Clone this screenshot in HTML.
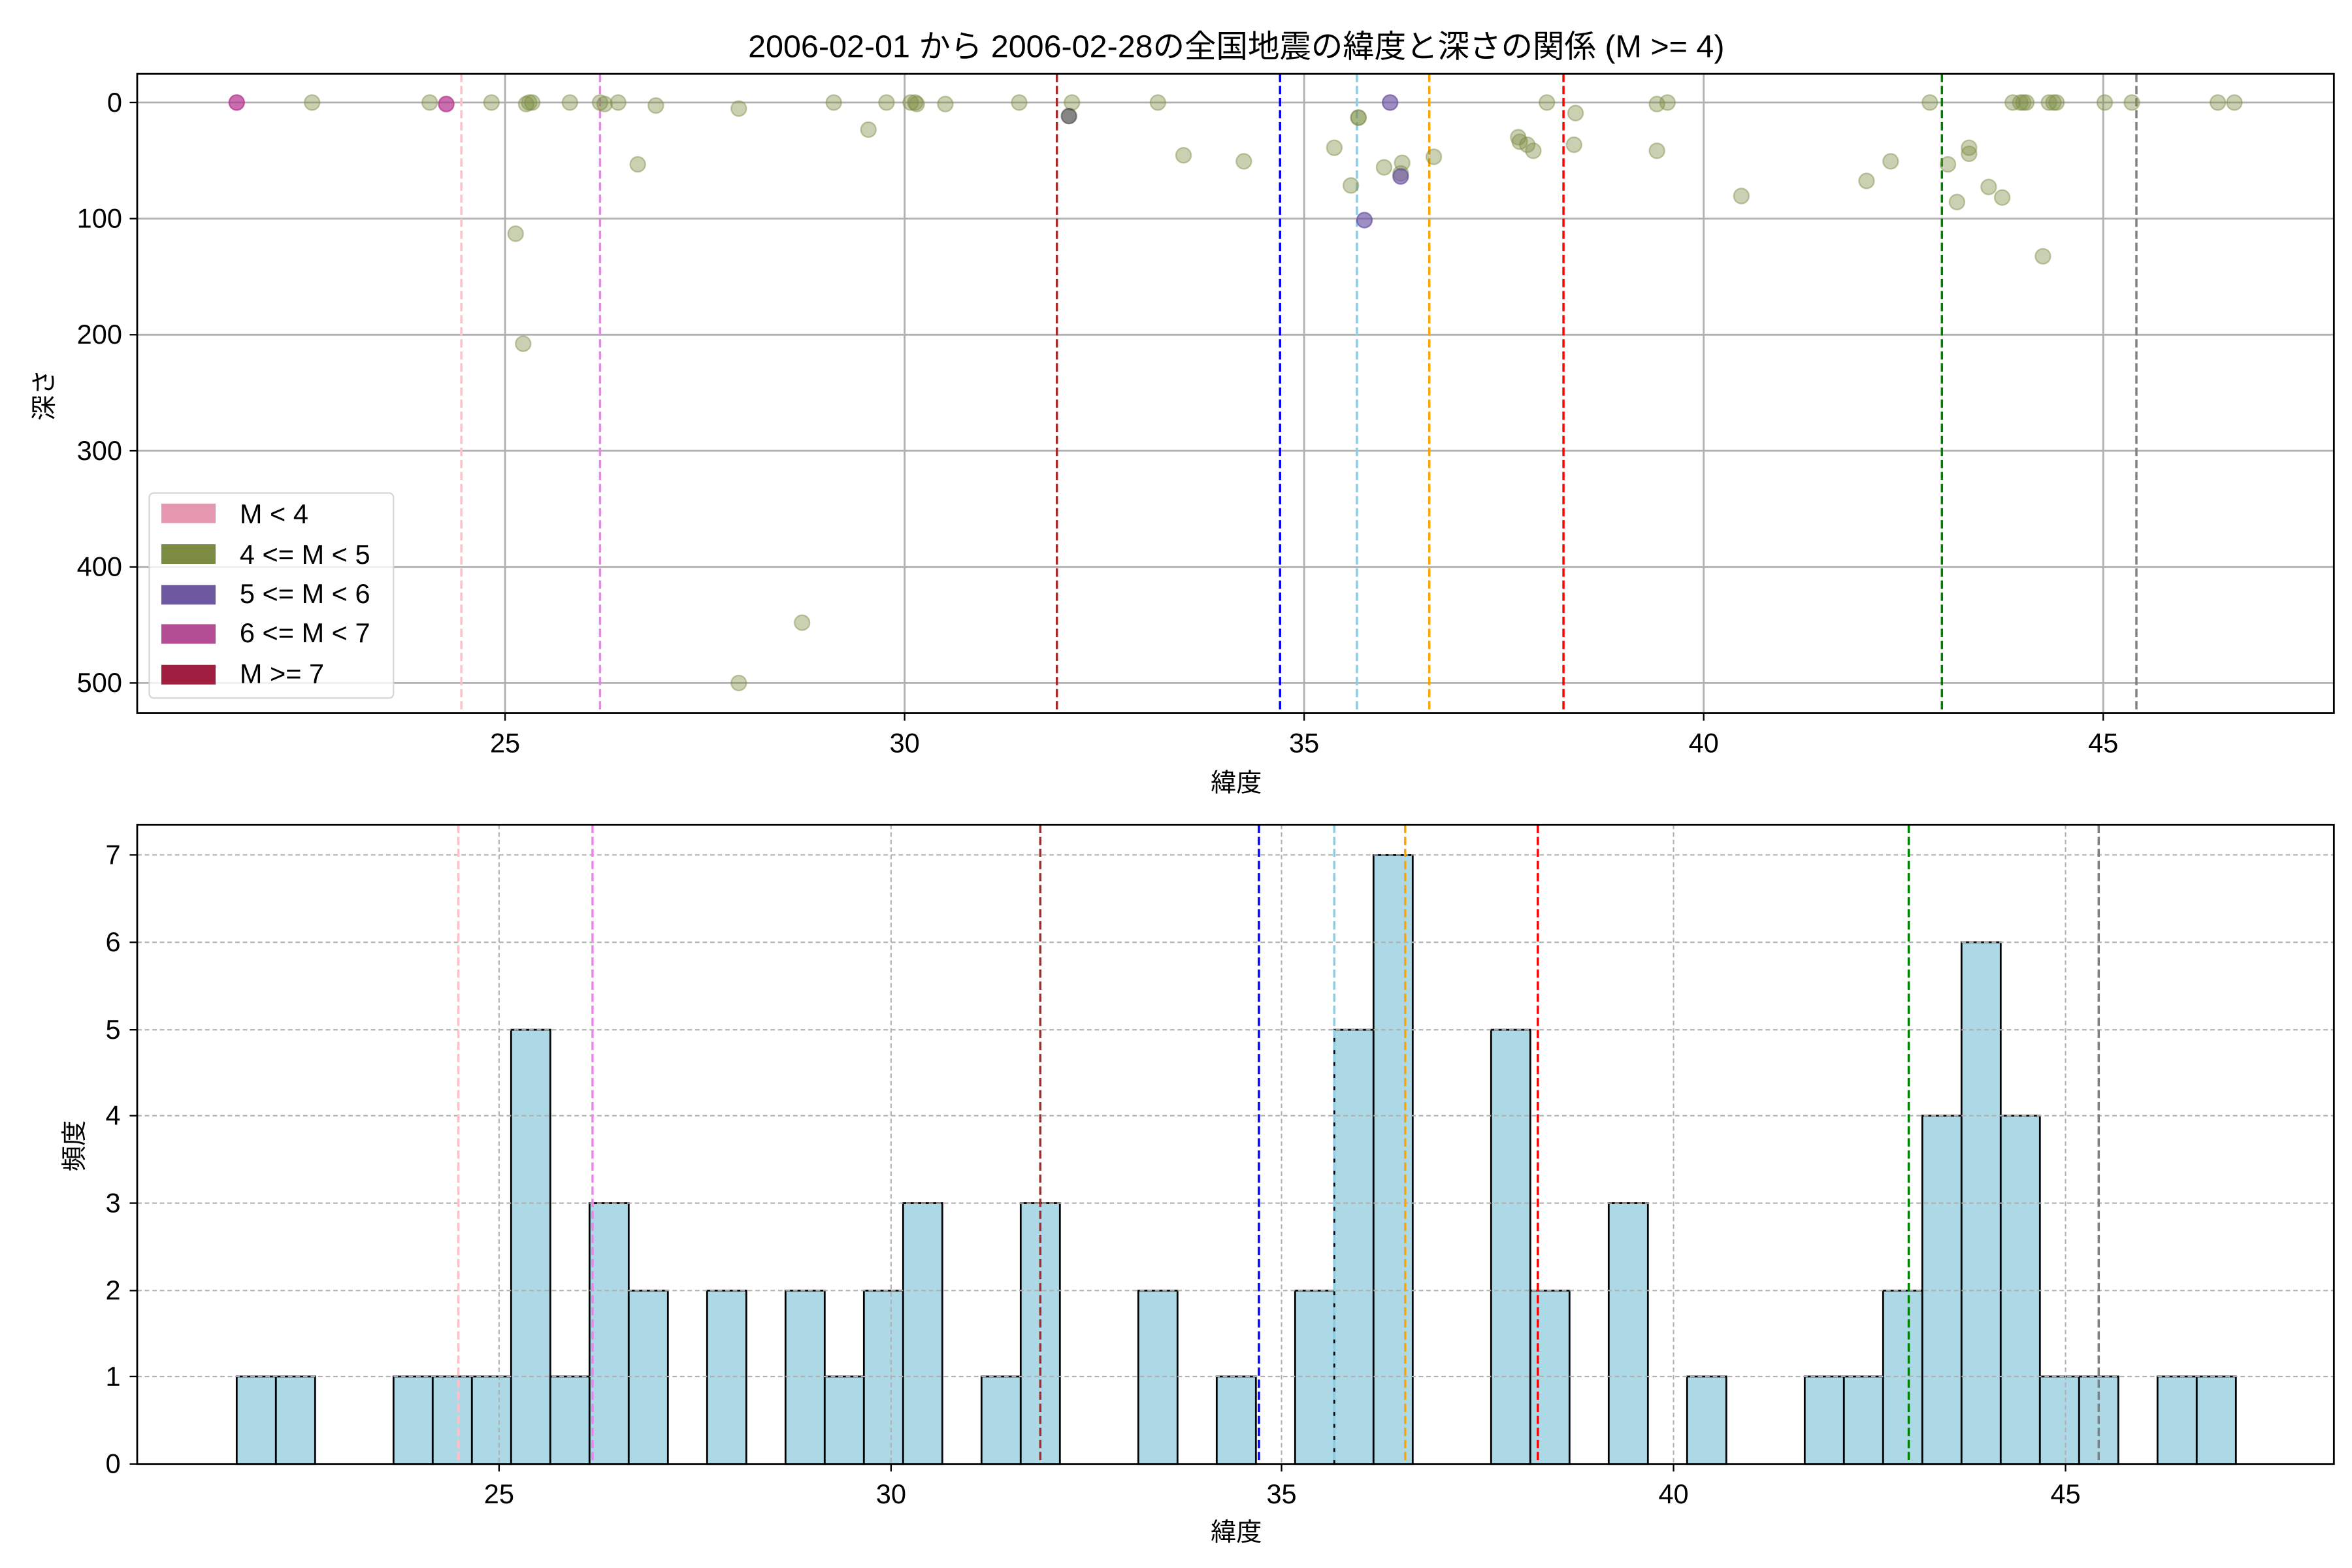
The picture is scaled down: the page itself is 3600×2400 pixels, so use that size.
<!DOCTYPE html>
<html><head><meta charset="utf-8"><style>html,body{margin:0;padding:0;background:#fff}svg{display:block}</style></head>
<body>
<svg width="3600" height="2400" viewBox="0 0 1560 1040" xmlns="http://www.w3.org/2000/svg" font-family="Liberation Sans, Noto Sans CJK JP, sans-serif">
<rect width="1560" height="1040" fill="#fff"/>
<text x="820" y="38" font-size="21" text-anchor="middle">2006-02-01 から 2006-02-28の全国地震の緯度と深さの関係 (M &gt;= 4)</text>

<!-- TOP AXES -->
<g stroke="#b0b0b0" stroke-width="1.2">
<line x1="335" y1="49" x2="335" y2="473"/><line x1="600" y1="49" x2="600" y2="473"/><line x1="865" y1="49" x2="865" y2="473"/><line x1="1130" y1="49" x2="1130" y2="473"/><line x1="1395" y1="49" x2="1395" y2="473"/>
<line x1="91" y1="68" x2="1548" y2="68"/><line x1="91" y1="145" x2="1548" y2="145"/><line x1="91" y1="222" x2="1548" y2="222"/><line x1="91" y1="299" x2="1548" y2="299"/><line x1="91" y1="376" x2="1548" y2="376"/><line x1="91" y1="453" x2="1548" y2="453"/>
</g>
<g stroke-width="1.5" stroke-dasharray="5.5,2.5">
<line x1="306" y1="49" x2="306" y2="473" stroke="pink"/>
<line x1="398" y1="49" x2="398" y2="473" stroke="violet"/>
<line x1="701" y1="49" x2="701" y2="473" stroke="#a52a2a"/>
<line x1="849" y1="49" x2="849" y2="473" stroke="blue"/>
<line x1="900" y1="49" x2="900" y2="473" stroke="skyblue"/>
<line x1="948" y1="49" x2="948" y2="473" stroke="orange"/>
<line x1="1037" y1="49" x2="1037" y2="473" stroke="red"/>
<line x1="1288" y1="49" x2="1288" y2="473" stroke="green"/>
<line x1="1417" y1="49" x2="1417" y2="473" stroke="gray"/>
</g>
<g fill="#7b8b42" fill-opacity="0.4" stroke="#7b8b42" stroke-opacity="0.45" stroke-width="1">
<circle cx="207" cy="68" r="5"/><circle cx="285" cy="68" r="5"/><circle cx="326" cy="68" r="5"/><circle cx="342" cy="155" r="5"/><circle cx="347" cy="228" r="5"/><circle cx="349" cy="69" r="5"/><circle cx="351" cy="68" r="5"/><circle cx="353" cy="68" r="5"/><circle cx="378" cy="68" r="5"/><circle cx="398" cy="68" r="5"/><circle cx="401" cy="69" r="5"/><circle cx="410" cy="68" r="5"/><circle cx="423" cy="109" r="5"/><circle cx="435" cy="70" r="5"/><circle cx="490" cy="72" r="5"/><circle cx="490" cy="453" r="5"/><circle cx="532" cy="413" r="5"/><circle cx="553" cy="68" r="5"/><circle cx="576" cy="86" r="5"/><circle cx="588" cy="68" r="5"/><circle cx="604" cy="68" r="5"/><circle cx="607" cy="68" r="5"/><circle cx="608" cy="69" r="5"/><circle cx="627" cy="69" r="5"/><circle cx="676" cy="68" r="5"/><circle cx="711" cy="68" r="5"/><circle cx="768" cy="68" r="5"/><circle cx="785" cy="103" r="5"/><circle cx="825" cy="107" r="5"/><circle cx="885" cy="98" r="5"/><circle cx="896" cy="123" r="5"/><circle cx="901" cy="78" r="5"/><circle cx="901" cy="78" r="5"/><circle cx="918" cy="111" r="5"/><circle cx="930" cy="108" r="5"/><circle cx="929" cy="115" r="5"/><circle cx="951" cy="104" r="5"/><circle cx="1007" cy="91" r="5"/><circle cx="1008" cy="94" r="5"/><circle cx="1013" cy="96" r="5"/><circle cx="1017" cy="100" r="5"/><circle cx="1026" cy="68" r="5"/><circle cx="1045" cy="75" r="5"/><circle cx="1044" cy="96" r="5"/><circle cx="1099" cy="69" r="5"/><circle cx="1099" cy="100" r="5"/><circle cx="1106" cy="68" r="5"/><circle cx="1155" cy="130" r="5"/><circle cx="1238" cy="120" r="5"/><circle cx="1254" cy="107" r="5"/><circle cx="1280" cy="68" r="5"/><circle cx="1292" cy="109" r="5"/><circle cx="1298" cy="134" r="5"/><circle cx="1306" cy="102" r="5"/><circle cx="1306" cy="98" r="5"/><circle cx="1319" cy="124" r="5"/><circle cx="1328" cy="131" r="5"/><circle cx="1335" cy="68" r="5"/><circle cx="1340" cy="68" r="5"/><circle cx="1342" cy="68" r="5"/><circle cx="1344" cy="68" r="5"/><circle cx="1355" cy="170" r="5"/><circle cx="1359" cy="68" r="5"/><circle cx="1362" cy="68" r="5"/><circle cx="1364" cy="68" r="5"/><circle cx="1396" cy="68" r="5"/><circle cx="1414" cy="68" r="5"/><circle cx="1471" cy="68" r="5"/><circle cx="1482" cy="68" r="5"/>
</g>
<g fill="#333" fill-opacity="0.6" stroke="#333" stroke-opacity="0.5">
<circle cx="709" cy="77" r="5"/>
</g>
<g fill="#6a51a3" fill-opacity="0.65" stroke="#6a51a3" stroke-opacity="0.7">
<circle cx="922" cy="68" r="5"/><circle cx="905" cy="146" r="5"/><circle cx="929" cy="117" r="5"/>
</g>
<g fill="#b5318f" fill-opacity="0.7" stroke="#b5318f" stroke-opacity="0.7">
<circle cx="157" cy="68" r="5"/><circle cx="296" cy="69" r="5"/>
</g>
<!-- legend -->
<rect x="99" y="327" width="162" height="136" rx="3" fill="#fff" fill-opacity="0.8" stroke="#d6d6d6" stroke-width="1"/>
<rect x="107" y="334" width="36" height="13" fill="#e597b0"/>
<rect x="107" y="361" width="36" height="13" fill="#7b8b42"/>
<rect x="107" y="388" width="36" height="13" fill="#6e589f"/>
<rect x="107" y="414" width="36" height="13" fill="#b24d94"/>
<rect x="107" y="441" width="36" height="13" fill="#a01f40"/>
<g font-size="18">
<text x="159" y="347">M &lt; 4</text>
<text x="159" y="374">4 &lt;= M &lt; 5</text>
<text x="159" y="400">5 &lt;= M &lt; 6</text>
<text x="159" y="426">6 &lt;= M &lt; 7</text>
<text x="159" y="453">M &gt;= 7</text>
</g>
<rect x="91" y="49" width="1457" height="424" fill="none" stroke="#000" stroke-width="1.2"/>
<g stroke="#000" stroke-width="1">
<line x1="335" y1="473" x2="335" y2="478"/><line x1="600" y1="473" x2="600" y2="478"/><line x1="865" y1="473" x2="865" y2="478"/><line x1="1130" y1="473" x2="1130" y2="478"/><line x1="1395" y1="473" x2="1395" y2="478"/>
<line x1="86" y1="68" x2="91" y2="68"/><line x1="86" y1="145" x2="91" y2="145"/><line x1="86" y1="222" x2="91" y2="222"/><line x1="86" y1="299" x2="91" y2="299"/><line x1="86" y1="376" x2="91" y2="376"/><line x1="86" y1="453" x2="91" y2="453"/>
</g>
<g font-size="18" text-anchor="middle">
<text x="335" y="499">25</text><text x="600" y="499">30</text><text x="865" y="499">35</text><text x="1130" y="499">40</text><text x="1395" y="499">45</text>
<text x="820" y="525" font-size="17">緯度</text>
</g>
<g font-size="18" text-anchor="end">
<text x="81" y="74">0</text><text x="81" y="151">100</text><text x="81" y="228">200</text><text x="81" y="305">300</text><text x="81" y="382">400</text><text x="81" y="459">500</text>
</g>
<text x="0" y="0" font-size="17" text-anchor="middle" transform="translate(35,262) rotate(-90)">深さ</text>

<!-- BOTTOM AXES -->
<g fill="#add8e6" stroke="#000" stroke-width="1.2">
<rect x="157" y="913" width="26" height="58"/><rect x="183" y="913" width="26" height="58"/>
<rect x="261" y="913" width="26" height="58"/><rect x="287" y="913" width="26" height="58"/><rect x="313" y="913" width="26" height="58"/>
<rect x="339" y="683" width="26" height="288"/><rect x="365" y="913" width="26" height="58"/><rect x="391" y="798" width="26" height="173"/><rect x="417" y="856" width="26" height="115"/>
<rect x="469" y="856" width="26" height="115"/>
<rect x="521" y="856" width="26" height="115"/><rect x="547" y="913" width="26" height="58"/><rect x="573" y="856" width="26" height="115"/><rect x="599" y="798" width="26" height="173"/>
<rect x="651" y="913" width="26" height="58"/><rect x="677" y="798" width="26" height="173"/>
<rect x="755" y="856" width="26" height="115"/>
<rect x="807" y="913" width="26" height="58"/>
<rect x="859" y="856" width="26" height="115"/><rect x="885" y="683" width="26" height="288"/><rect x="911" y="567" width="26" height="404"/>
<rect x="989" y="683" width="26" height="288"/><rect x="1015" y="856" width="26" height="115"/>
<rect x="1067" y="798" width="26" height="173"/>
<rect x="1119" y="913" width="26" height="58"/>
<rect x="1197" y="913" width="26" height="58"/><rect x="1223" y="913" width="26" height="58"/><rect x="1249" y="856" width="26" height="115"/><rect x="1275" y="740" width="26" height="231"/><rect x="1301" y="625" width="26" height="346"/><rect x="1327" y="740" width="26" height="231"/><rect x="1353" y="913" width="26" height="58"/><rect x="1379" y="913" width="26" height="58"/>
<rect x="1431" y="913" width="26" height="58"/><rect x="1457" y="913" width="26" height="58"/>
</g>
<g stroke="#b0b0b0" stroke-width="0.9" stroke-dasharray="3,2">
<line x1="331" y1="547" x2="331" y2="971"/><line x1="591" y1="547" x2="591" y2="971"/><line x1="850" y1="547" x2="850" y2="971"/><line x1="1110" y1="547" x2="1110" y2="971"/><line x1="1370" y1="547" x2="1370" y2="971"/>
<line x1="91" y1="913" x2="1548" y2="913"/><line x1="91" y1="856" x2="1548" y2="856"/><line x1="91" y1="798" x2="1548" y2="798"/><line x1="91" y1="740" x2="1548" y2="740"/><line x1="91" y1="683" x2="1548" y2="683"/><line x1="91" y1="625" x2="1548" y2="625"/><line x1="91" y1="567" x2="1548" y2="567"/>
</g>
<g stroke-width="1.5" stroke-dasharray="5.5,2.5">
<line x1="304" y1="547" x2="304" y2="971" stroke="pink"/>
<line x1="393" y1="547" x2="393" y2="971" stroke="violet"/>
<line x1="690" y1="547" x2="690" y2="971" stroke="#a52a2a"/>
<line x1="835" y1="547" x2="835" y2="971" stroke="blue"/>
<line x1="885" y1="547" x2="885" y2="971" stroke="skyblue"/>
<line x1="932" y1="547" x2="932" y2="971" stroke="orange"/>
<line x1="1020" y1="547" x2="1020" y2="971" stroke="red"/>
<line x1="1266" y1="547" x2="1266" y2="971" stroke="green"/>
<line x1="1392" y1="547" x2="1392" y2="971" stroke="gray"/>
</g>
<rect x="91" y="547" width="1457" height="424" fill="none" stroke="#000" stroke-width="1.2"/>
<g stroke="#000" stroke-width="1">
<line x1="331" y1="971" x2="331" y2="976"/><line x1="591" y1="971" x2="591" y2="976"/><line x1="850" y1="971" x2="850" y2="976"/><line x1="1110" y1="971" x2="1110" y2="976"/><line x1="1370" y1="971" x2="1370" y2="976"/>
<line x1="86" y1="971" x2="91" y2="971"/><line x1="86" y1="913" x2="91" y2="913"/><line x1="86" y1="856" x2="91" y2="856"/><line x1="86" y1="798" x2="91" y2="798"/><line x1="86" y1="740" x2="91" y2="740"/><line x1="86" y1="683" x2="91" y2="683"/><line x1="86" y1="625" x2="91" y2="625"/><line x1="86" y1="567" x2="91" y2="567"/>
</g>
<g font-size="18" text-anchor="middle">
<text x="331" y="997">25</text><text x="591" y="997">30</text><text x="850" y="997">35</text><text x="1110" y="997">40</text><text x="1370" y="997">45</text>
<text x="820" y="1022" font-size="17">緯度</text>
</g>
<g font-size="18" text-anchor="end">
<text x="80" y="977">0</text><text x="80" y="919">1</text><text x="80" y="862">2</text><text x="80" y="804">3</text><text x="80" y="746">4</text><text x="80" y="689">5</text><text x="80" y="631">6</text><text x="80" y="573">7</text>
</g>
<text x="0" y="0" font-size="17" text-anchor="middle" transform="translate(55,760) rotate(-90)">頻度</text>
</svg>
</body></html>
